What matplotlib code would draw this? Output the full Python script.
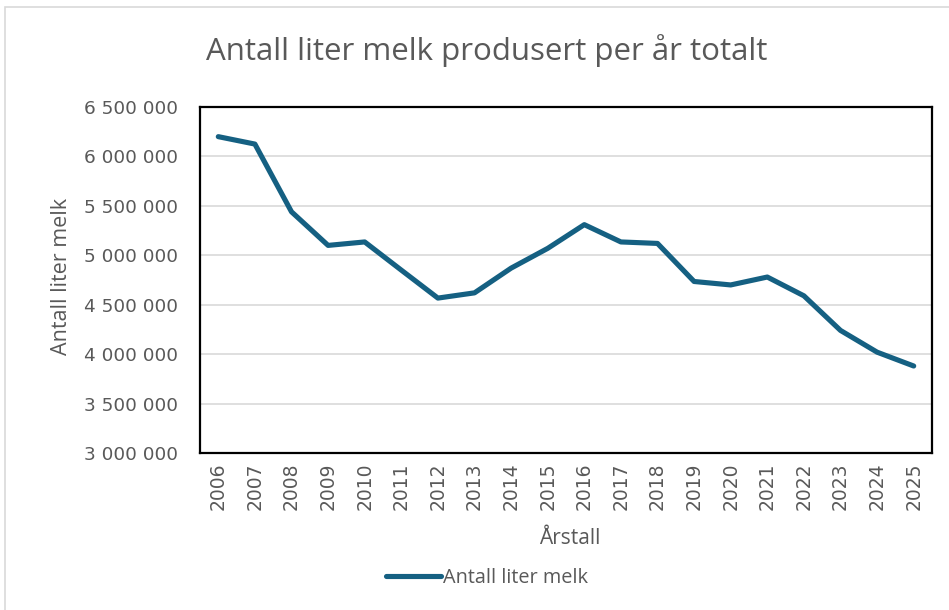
import matplotlib
matplotlib.use("Agg")
import matplotlib.pyplot as plt
from matplotlib.patches import Rectangle
from matplotlib.ticker import FuncFormatter, MultipleLocator

# data
years = ["2006", "2007", "2008", "2009", "2010", "2011", "2012", "2013", "2014", "2015",
         "2016", "2017", "2018", "2019", "2020", "2021", "2022", "2023", "2024", "2025"]
liter_melk = [6200000, 6125000, 5440000, 5100000, 5135000, 4850000, 4567000, 4620000, 4870000, 5070000,
              5310000, 5135000, 5120000, 4735000, 4700000, 4780000, 4590000, 4240000, 4020000, 3880000]

grey = "#595959"
line_col = "#156082"
label_font = ["Open Sans", "DejaVu Sans"]


def space_thousands(v, pos):
    return f"{v:,.0f}".replace(",", " ")


def main():
    fig = plt.figure(figsize=(9.49, 6.10), dpi=100)
    ax = fig.add_axes([200 / 949, 1 - 453 / 610, 732 / 949, 346 / 610])

    # light frame around the whole chart area, like the Excel chart box
    fig.patches.append(Rectangle((5 / 949, -0.02), 1.0, 1.02 - 7 / 610, transform=fig.transFigure,
                                 fill=False, edgecolor="#d9d9d9", linewidth=1.2))

    x = list(range(len(years)))
    ax.plot(x, liter_melk, color=line_col, linewidth=3.7, solid_capstyle="round",
            solid_joinstyle="round", label="Antall liter melk", zorder=3)

    ax.set_xlim(-0.5, len(years) - 0.5)
    ax.set_ylim(3000000, 6500000)
    ax.yaxis.set_major_locator(MultipleLocator(500000))
    ax.yaxis.set_major_formatter(FuncFormatter(space_thousands))
    ax.set_xticks(x)
    ax.set_xticklabels(years, rotation=90)

    ax.grid(axis="y", color="#d9d9d9", linewidth=1.2)
    ax.set_axisbelow(True)
    for s in ax.spines.values():
        s.set_color("black")
        s.set_linewidth(1.6)

    ax.tick_params(axis="y", length=0, pad=16, labelsize=13.3, labelcolor=grey)
    ax.tick_params(axis="x", length=0, pad=7, labelsize=13.5, labelcolor=grey)

    ax.set_ylabel("Antall liter melk", fontsize=15.5, color=grey, family=label_font)
    ax.yaxis.set_label_coords(62 / 732 - 200 / 732, (453 - 276) / 346)
    ax.yaxis.label.set_va("center")

    fig.text(570 / 949, 1 - 539 / 610, "Årstall", ha="center", va="center",
             fontsize=15, color=grey, family=label_font)

    fig.suptitle("Antall liter melk produsert per år totalt", x=487 / 949, y=1 - 51 / 610,
                 ha="center", va="center", fontsize=22.5, color=grey, family=label_font)

    leg = ax.legend(loc="center", bbox_to_anchor=(487 / 949, 1 - 578 / 610),
                    bbox_transform=fig.transFigure, frameon=False, handlelength=2.8,
                    handletextpad=0.1, prop={"family": label_font, "size": 14.3})
    for t in leg.get_texts():
        t.set_color(grey)

    fig.savefig("out.png", dpi=100)


if __name__ == "__main__":
    main()
